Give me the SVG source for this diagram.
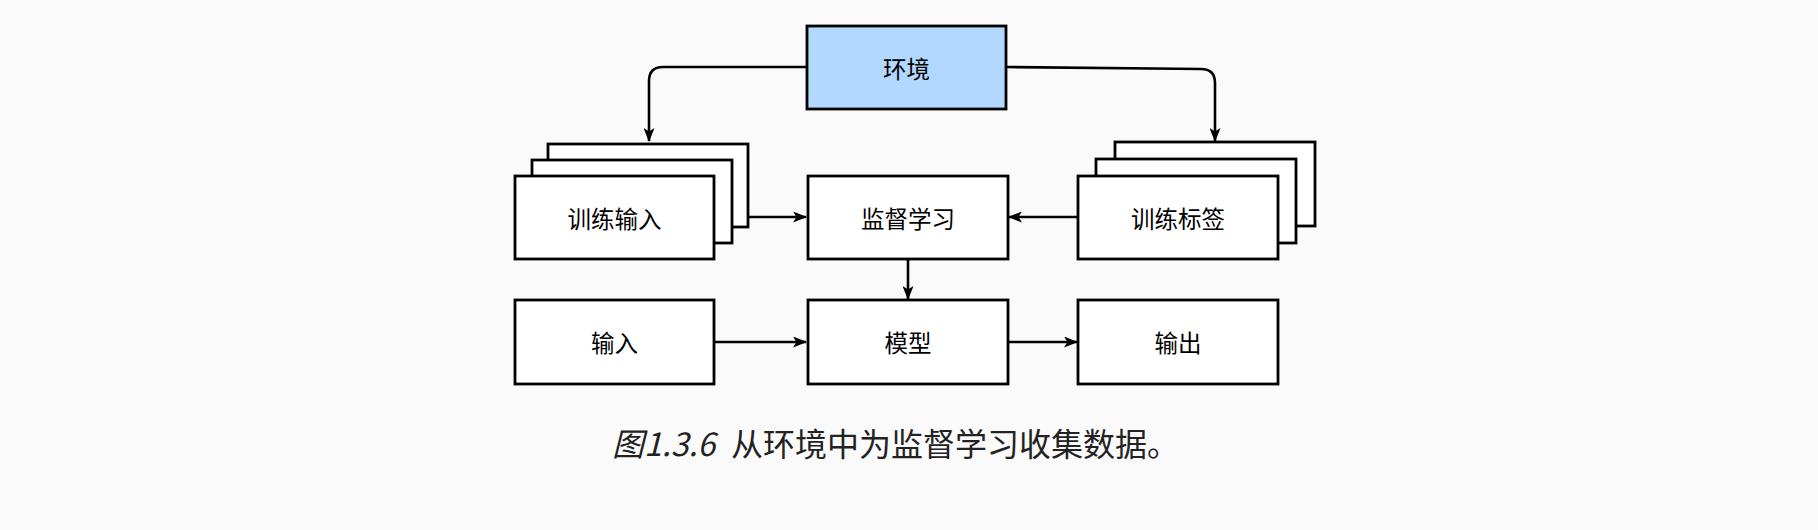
<svg xmlns="http://www.w3.org/2000/svg" width="1818" height="530" viewBox="0 0 1818 530">
<defs>
<style>
.box{fill:#ffffff;stroke:#000;stroke-width:2.8}
.env{fill:#b2d8ff;stroke:#000;stroke-width:2.8}
.lbl{font-family:"Noto Sans CJK SC","Noto Sans",sans-serif;font-size:23.5px;fill:#000;text-anchor:middle;dominant-baseline:central}
.edge{fill:none;stroke:#000;stroke-width:2.6}
.cap{font-family:"Noto Sans CJK SC","Noto Sans",sans-serif;font-size:32px;fill:#222}
</style>
<marker id="arr" viewBox="0 0 14 11" refX="13" refY="5.5" markerWidth="14" markerHeight="11" markerUnits="userSpaceOnUse" orient="auto">
<path d="M0,0 L14,5.5 L0,11 L3.5,5.5 Z" fill="#000"/>
</marker>
</defs>
<rect width="1818" height="530" fill="#fafafa"/>
<g id="edges">
<path class="edge" d="M806,67 L663,67 Q649,67 649,81 L649,141" marker-end="url(#arr)"/>
<path class="edge" d="M1007,67 L1201,69 Q1215,69 1215,83 L1215,141" marker-end="url(#arr)"/>
<path class="edge" d="M749,217 L806,217" marker-end="url(#arr)"/>
<path class="edge" d="M1078,217 L1009,217" marker-end="url(#arr)"/>
<path class="edge" d="M908,259 L908,299" marker-end="url(#arr)"/>
<path class="edge" d="M714,342 L806,342" marker-end="url(#arr)"/>
<path class="edge" d="M1008,342 L1077,342" marker-end="url(#arr)"/>
</g>
<g id="env">
<rect class="env" x="807" y="26" width="199" height="83"/>
<text class="lbl" x="906.5" y="67.5">环境</text>
</g>
<g id="train-input">
<rect class="box" x="548" y="144" width="200" height="83"/>
<rect class="box" x="532" y="160" width="200" height="83"/>
<rect class="box" x="515" y="176" width="199" height="83"/>
<text class="lbl" x="614.5" y="217.5">训练输入</text>
</g>
<g id="supervised">
<rect class="box" x="808" y="176" width="200" height="83"/>
<text class="lbl" x="908" y="217.5">监督学习</text>
</g>
<g id="train-label">
<rect class="box" x="1115" y="142" width="200" height="84"/>
<rect class="box" x="1096" y="159" width="200" height="84"/>
<rect class="box" x="1078" y="176" width="200" height="83"/>
<text class="lbl" x="1178" y="217.5">训练标签</text>
</g>
<g id="input">
<rect class="box" x="515" y="300" width="199" height="84"/>
<text class="lbl" x="614.5" y="342">输入</text>
</g>
<g id="model">
<rect class="box" x="808" y="300" width="200" height="84"/>
<text class="lbl" x="908" y="342">模型</text>
</g>
<g id="output">
<rect class="box" x="1078" y="300" width="200" height="84"/>
<text class="lbl" x="1178" y="342">输出</text>
</g>
<text class="cap" x="612" y="456"><tspan font-style="italic">图1.3.6</tspan><tspan x="731">从环境中为监督学习收集数据。</tspan></text>
</svg>
